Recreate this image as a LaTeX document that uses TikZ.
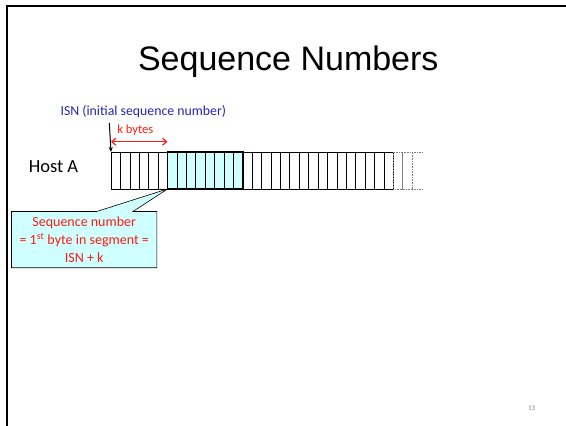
\documentclass[tikz,border=0pt]{standalone}
\usepackage{fontspec}
\setmainfont{Carlito}
\newfontfamily\titlefont{Liberation Sans}
\usetikzlibrary{arrows.meta, positioning, backgrounds}
\definecolor{isnblue}{RGB}{38,38,178}
\definecolor{notered}{RGB}{255,28,18}
\definecolor{segfill}{RGB}{208,255,255}
\tikzset{
  byte/.style = {draw, line width=0.6pt, minimum width=9.41pt,
    minimum height=37pt, inner sep=0pt, outer sep=0pt, anchor=north west},
  segbyte/.style = {byte, fill=segfill},
  ghostbyte/.style = {byte, draw=gray, densely dotted},
  ghostline/.style = {line width=0.6pt, draw=gray, densely dotted},
  redtext/.style = {text=notered, inner sep=0pt},
}

\begin{document}
\begin{tikzpicture}[x=1pt, y=-1pt]
  \useasboundingbox (0,0) rectangle (566,426);
  % slide frame
  \draw[line width=2.4pt] (7,426) -- (7,5.7) -- (566,5.7);
  \node[anchor=base, inner sep=0pt, font=\titlefont\fontsize{34}{40}\selectfont]
    (title) at (288.3,70) {Sequence Numbers};

  % byte stream of host A
  \foreach \i in {0,...,29} {
    \ifnum\i>5 \ifnum\i<14
      \node[segbyte] (c\i) at (111+9.41*\i,152) {};
    \else
      \node[byte] (c\i) at (111+9.41*\i,152) {};
    \fi \else
      \node[byte] (c\i) at (111+9.41*\i,152) {};
    \fi
  }
  \node[ghostbyte, right=0pt of c29.north east, anchor=north west] (d0) {};
  \node[ghostbyte, right=0pt of d0.north east, anchor=north west] (d1) {};
  \draw[ghostline] (d1.north east) -- ++(9.7,0);
  \draw[ghostline] (d1.south east) -- ++(9.7,0);
  \draw[line width=1.8pt] (c6.north west) rectangle (c13.south east);

  \node[inner sep=0pt, font=\fontsize{18.5}{22}\selectfont] (hosta) at (53.5,167) {Host A};

  % ISN marker
  \node[anchor=base, inner sep=0pt, text=isnblue, font=\fontsize{13.8}{16}\selectfont]
    (isn) at (143.3,115.7) {ISN (initial sequence number)};
  \coordinate (isntail) at (109.3,123);
  \draw[line width=1pt, -{Stealth[length=5pt,width=4pt]}] (isntail) -- (c0.north west);

  % offset k
  \draw[notered, line width=1.2pt, {Straight Barb[length=4pt,width=7pt]}-{Straight Barb[length=4pt,width=7pt]}]
    ([yshift=10.3pt]c0.north west) -- ([yshift=10.3pt]c5.north east);
  \node[redtext, anchor=base, font=\fontsize{12.5}{15}\selectfont] (kbytes) at (135.3,133.3) {k bytes};

  % callout
  \node[redtext, align=center, minimum width=145pt, minimum height=55.8pt,
    font=\fontsize{14}{17.6}\selectfont] (note) at (84.2,239.6)
    {Sequence number\\= 1\textsuperscript{st} byte in segment =\\ISN + k};
  \begin{scope}[on background layer]
    \draw[line width=0.6pt, fill=segfill] (note.north west)
      -- ([xshift=12.5pt]note.north) -- (c6.south west) -- ([xshift=48.8pt]note.north)
      -- (note.north east) -- (note.south east) -- (note.south west) -- cycle;
  \end{scope}

  \node[text=gray, inner sep=0pt, font=\fontsize{7}{8}\selectfont] (page) at (531.7,408) {13};
\end{tikzpicture}
\end{document}
